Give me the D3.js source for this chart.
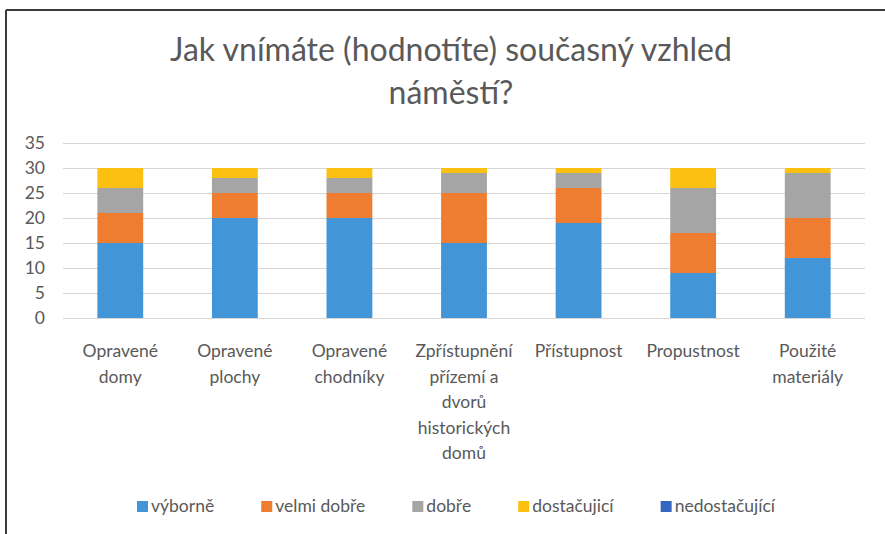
<!DOCTYPE html>
<html><head><meta charset="utf-8">
<script src="https://cdn.jsdelivr.net/npm/d3@7"></script>
<style>
html,body{margin:0;padding:0;background:#fff;}
svg{display:block;font-family:Lato,"Open Sans",sans-serif;}
</style></head>
<body>
<svg id="chart" width="885" height="534"></svg>
<script>
const titleLines = ["Jak vnímáte (hodnotíte) současný vzhled", "náměstí?"];
const categories = [
  "Opravené\ndomy",
  "Opravené\nplochy",
  "Opravené\nchodníky",
  "Zpřístupnění\npřízemí a\ndvorů\nhistorických\ndomů",
  "Přístupnost",
  "Propustnost",
  "Použité\nmateriály"
];
const seriesNames = ["výborně", "velmi dobře", "dobře", "dostačujicí", "nedostačující"];
const vyborne      = [15, 20, 20, 15, 19, 9, 12];
const velmiDobre   = [6, 5, 5, 10, 7, 8, 8];
const dobre        = [5, 3, 3, 4, 3, 9, 9];
const dostacujici  = [4, 2, 2, 1, 1, 4, 1];
const nedostacujici= [0, 0, 0, 0, 0, 0, 0];
const yTicks = [0, 5, 10, 15, 20, 25, 30, 35];
const colors = ["#4296d8", "#ee7d32", "#a5a5a5", "#fcc010", "#3566c0"];

const seriesValues = [vyborne, velmiDobre, dobre, dostacujici, nedostacujici];
const table = categories.map((c, i) => {
  const row = {cat: c};
  seriesNames.forEach((s, j) => row[s] = seriesValues[j][i]);
  return row;
});

const svg = d3.select("#chart");
// frame
svg.append("line").attr("x1", 6).attr("x2", 885).attr("y1", 10).attr("y2", 10)
  .attr("stroke", "#3a3a3a").attr("stroke-width", 2);
svg.append("line").attr("x1", 6).attr("x2", 6).attr("y1", 10).attr("y2", 534)
  .attr("stroke", "#3a3a3a").attr("stroke-width", 2);

// title
const title = svg.append("text").attr("text-anchor", "middle")
  .attr("fill", "#595959").attr("font-size", 32);
titleLines.forEach((t, i) => title.append("tspan").attr("x", 451).attr("y", 61 + i * 43).text(t));

const x = d3.scaleBand().domain(categories).range([63, 865]).paddingInner(0.6).paddingOuter(0.3);
const y = d3.scaleLinear().domain([0, 35]).range([318, 143]);

// grid
svg.append("g").selectAll("line").data(yTicks).join("line")
  .attr("x1", 63).attr("x2", 865)
  .attr("y1", d => Math.round(y(d)) + 0.5).attr("y2", d => Math.round(y(d)) + 0.5)
  .attr("stroke", "#d9d4d4").attr("stroke-width", 1);

// y axis
const yAxis = svg.append("g").attr("transform", "translate(45,0)")
  .call(d3.axisLeft(y).tickValues(yTicks).tickSize(0).tickPadding(0));
yAxis.select(".domain").remove();
yAxis.selectAll("text").attr("font-size", 17.5).attr("fill", "#595959")
  .attr("font-family", "Lato, 'Open Sans', sans-serif");

// bars
const stack = d3.stack().keys(seriesNames);
const stacked = stack(table);
svg.append("g").selectAll("g").data(stacked).join("g")
  .attr("fill", (d, i) => colors[i])
  .selectAll("rect").data(d => d).join("rect")
  .attr("x", d => x(d.data.cat))
  .attr("width", x.bandwidth())
  .attr("y", d => y(d[1]))
  .attr("height", d => y(d[0]) - y(d[1]));

// x labels
const xl = svg.append("g");
categories.forEach(c => {
  const t = xl.append("text").attr("text-anchor", "middle").attr("fill", "#595959")
    .attr("font-size", 17.5);
  c.split("\n").forEach((line, i) => {
    t.append("tspan").attr("x", x(c) + x.bandwidth() / 2).attr("y", 357 + i * 25.5).text(line);
  });
});

// legend
const legend = svg.append("g");
const widths = [];
const nodes = seriesNames.map((s, i) => {
  const g = legend.append("g");
  g.append("rect").attr("x", 0).attr("y", -11).attr("width", 11).attr("height", 11).attr("fill", colors[i]);
  const t = g.append("text").attr("x", 14).attr("y", 0).attr("font-size", 17.5).attr("fill", "#595959").text(s);
  widths.push(14 + t.node().getComputedTextLength());
  return g;
});
const targetW = 638;
const gap = (targetW - d3.sum(widths)) / (seriesNames.length - 1);
let lx = 0;
nodes.forEach((g, i) => { g.attr("transform", `translate(${lx},0)`); lx += widths[i] + gap; });
legend.attr("transform", `translate(137,512)`);
</script>
</body></html>
